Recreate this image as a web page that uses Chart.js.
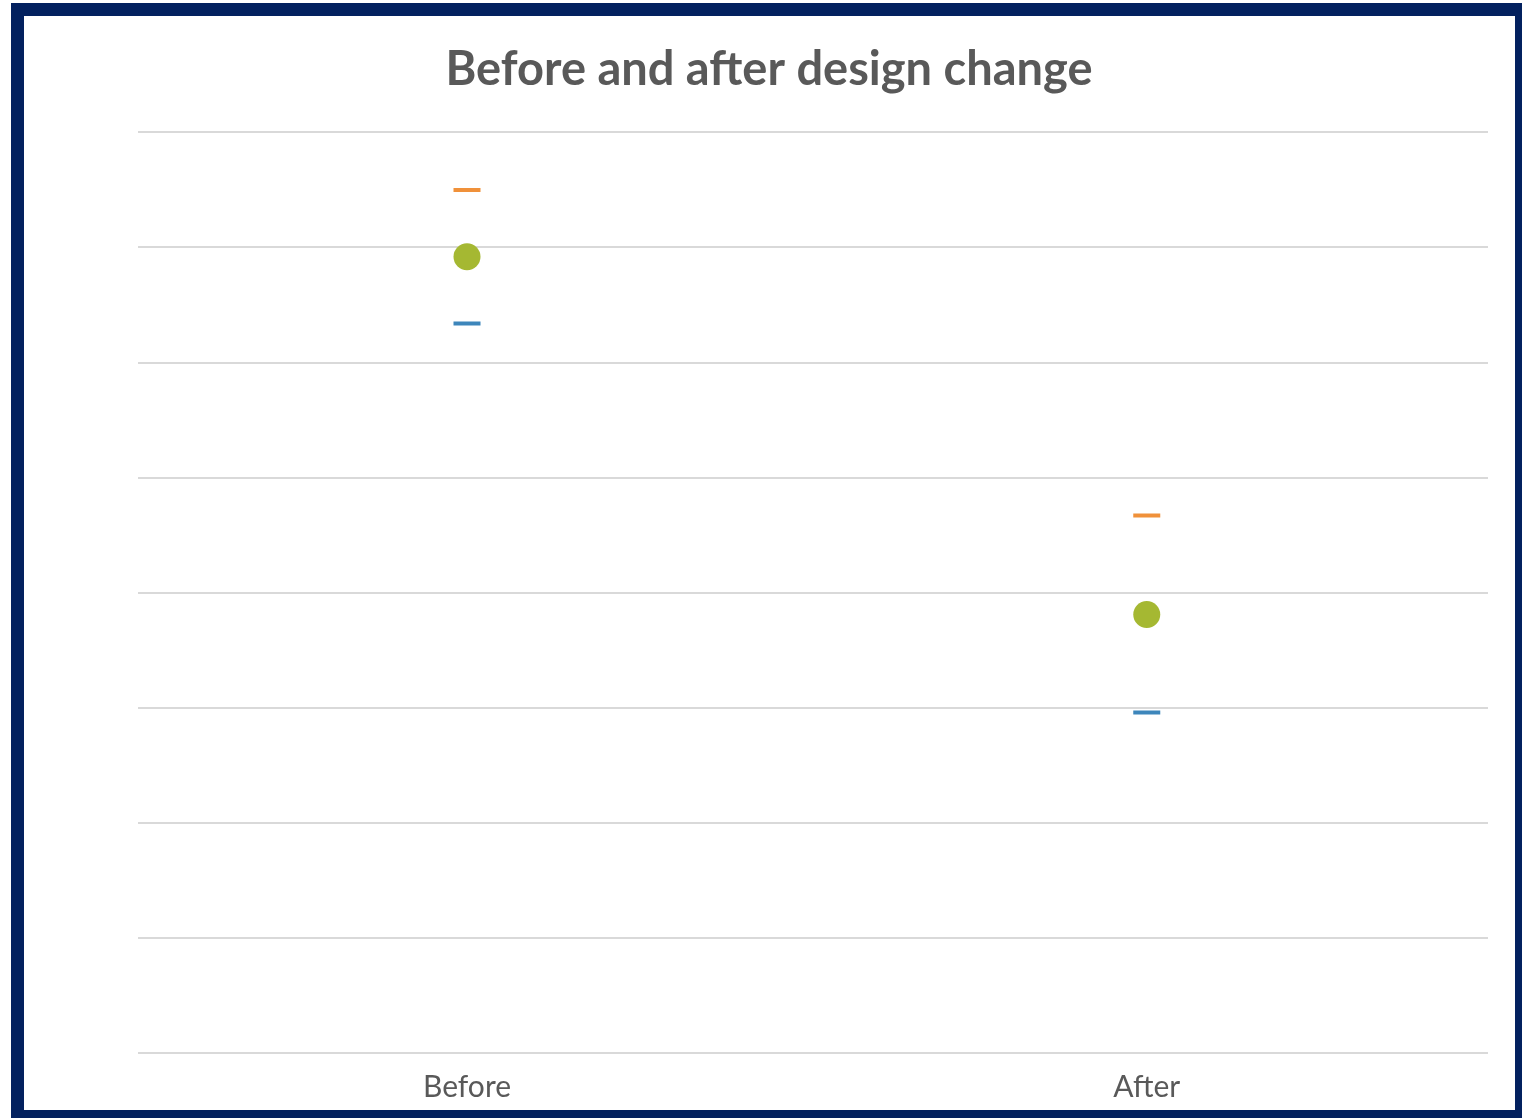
<!DOCTYPE html>
<html>
<head>
<meta charset="utf-8">
<script src="https://cdn.jsdelivr.net/npm/chart.js@4.4.0/dist/chart.umd.min.js"></script>
<style>
  html, body { margin: 0; padding: 0; background: #ffffff; }
  #frame {
    position: absolute; left: 11px; top: 3px;
    width: 1491px; height: 1094px;
    border-style: solid; border-color: #03215f;
    border-width: 13px 7px 8px 13px;
    background: #ffffff;
  }
  #wrap { position: absolute; left: 0; top: 0; width: 1491px; height: 1094px; }
</style>
</head>
<body>
<div id="frame"><div id="wrap"><canvas id="c"></canvas></div></div>
<script>
const categories = ["Before", "After"];
const upperValues = [7.50, 4.67];
const meanValues = [6.92, 3.81];
const lowerValues = [6.34, 2.96];
const titleText = "Before and after design change";

const toPts = (arr) => arr.map((v, i) => ({ x: i, y: v }));

const ctx = document.getElementById('c');
new Chart(ctx, {
  type: 'scatter',
  data: {
    datasets: [
      { label: 'Upper', data: toPts(upperValues), showLine: false, pointStyle: 'line',
        pointRadius: 13.5, pointBorderWidth: 4, borderColor: '#f0913a', backgroundColor: '#f0913a' },
      { label: 'Mean', data: toPts(meanValues), showLine: false, pointStyle: 'circle',
        pointRadius: 13.5, pointBorderWidth: 0, borderColor: '#a5b832', backgroundColor: '#a5b832' },
      { label: 'Lower', data: toPts(lowerValues), showLine: false, pointStyle: 'line',
        pointRadius: 13.5, pointBorderWidth: 4, borderColor: '#3d86bb', backgroundColor: '#3d86bb' }
    ]
  },
  options: {
    responsive: true,
    maintainAspectRatio: false,
    animation: false,
    events: [],
    layout: { padding: { left: 26, right: 27, top: 0, bottom: 0 } },
    plugins: {
      legend: { display: false },
      tooltip: { enabled: false },
      title: {
        display: true, text: titleText, color: '#595959',
        font: { family: 'Lato', size: 47, weight: 'bold' },
        padding: { top: 26, bottom: 34 }
      }
    },
    scales: {
      x: {
        type: 'linear',
        min: -0.484, max: 1.502,
        grid: { display: false },
        border: { display: false },
        afterBuildTicks: (s) => { s.ticks = categories.map((c, i) => ({ value: i })); },
        ticks: {
          color: '#595959', font: { family: 'Lato', size: 30 }, padding: 8,
          autoSkip: false, maxRotation: 0,
          callback: (v) => categories[v]
        },
        afterFit: (s) => { s.height = 57; }
      },
      y: {
        min: 0, max: 8,
        ticks: { display: false, stepSize: 1 },
        grid: { color: '#d9d9d9', lineWidth: 2, drawTicks: false },
        border: { display: false },
        afterFit: (s) => { s.width = 88; }
      }
    }
  }
});
</script>
</body>
</html>
